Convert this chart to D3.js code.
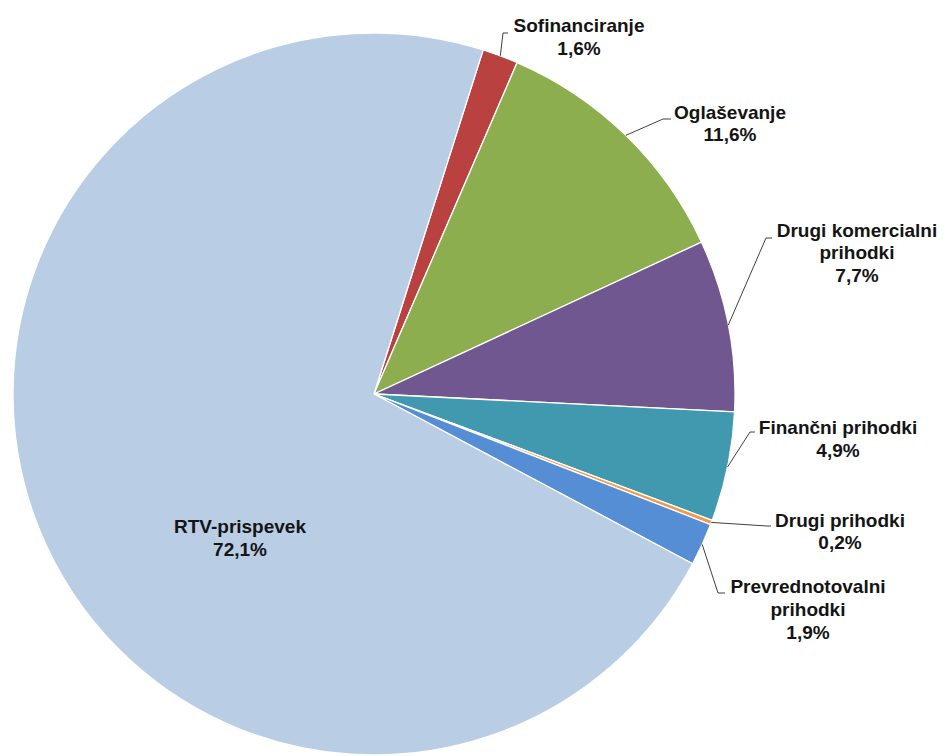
<!DOCTYPE html>
<html>
<head>
<meta charset="utf-8">
<script src="https://cdn.jsdelivr.net/npm/d3@7"></script>
<style>
  html, body { margin: 0; padding: 0; background: #ffffff; }
  svg { display: block; }
</style>
</head>
<body>
<script>
// ---- data ----
const categories = ["Sofinanciranje", "Oglaševanje", "Drugi komercialni prihodki", "Finančni prihodki", "Drugi prihodki", "Prevrednotovalni prihodki", "RTV-prispevek"];
const values = [1.6, 11.6, 7.7, 4.9, 0.2, 1.9, 72.1];
const labelLines = [["Sofinanciranje"], ["Oglaševanje"], ["Drugi komercialni", "prihodki"], ["Finančni prihodki"], ["Drugi prihodki"], ["Prevrednotovalni", "prihodki"], ["RTV-prispevek"]];
const colors = ["#B9413F", "#8CAE4E", "#70578F", "#4199AF", "#F79646", "#558ED5", "#B9CDE5"];

// ---- layout ----
const W = 944, H = 756;
const cx = 374, cy = 394, R = 361;
const startDeg = 17.6;
const lineH = 22.8;
// label layout: text centre x, first baseline y, leader elbow, tick end x (null = no leader)
const labelLayout = [
  { tx: 579, ty: 32,    ex: 503, ey: 33,  endX: 508 },
  { tx: 730, ty: 118.5, ex: 663, ey: 119, endX: 671 },
  { tx: 857, ty: 236.5, ex: 766, ey: 238, endX: 772 },
  { tx: 838, ty: 434,   ex: 750, ey: 432, endX: 755 },
  { tx: 840, ty: 526.5, ex: 767, ey: 526, endX: 771 },
  { tx: 808, ty: 593,   ex: 718, ey: 593, endX: 725 },
  { tx: 240, ty: 533,   ex: null }
];

const svg = d3.select("body").append("svg").attr("width", W).attr("height", H);
const g = svg.append("g").attr("transform", `translate(${cx},${cy})`);

const start = startDeg * Math.PI / 180;
const pie = d3.pie().sort(null).value(d => d.v).startAngle(start).endAngle(start + 2 * Math.PI);
const data = categories.map((c, i) => ({ c, v: values[i], i }));
const arcs = pie(data);
const arc = d3.arc().innerRadius(0).outerRadius(R);

g.selectAll("path.slice").data(arcs).enter().append("path")
  .attr("class", "slice")
  .attr("d", arc)
  .attr("fill", d => colors[d.data.i])
  .attr("stroke", "#ffffff")
  .attr("stroke-width", 1.3)
  .attr("stroke-linejoin", "round");

const fmt = v => d3.format(".1f")(v).replace(".", ",") + "%";

// leader lines
arcs.forEach(a => {
  const L = labelLayout[a.data.i];
  if (L.ex === null) return;
  const mid = (a.startAngle + a.endAngle) / 2;
  const px = cx + R * Math.sin(mid), py = cy - R * Math.cos(mid);
  svg.append("polyline")
    .attr("points", `${px},${py} ${L.ex},${L.ey} ${L.endX},${L.ey}`)
    .attr("fill", "none")
    .attr("stroke", "#404040")
    .attr("stroke-width", 1);
});

// labels
arcs.forEach(a => {
  const i = a.data.i;
  const L = labelLayout[i];
  const lines = labelLines[i].concat([fmt(a.data.v)]);
  const t = svg.append("text")
    .attr("text-anchor", "middle")
    .attr("font-family", "'Liberation Sans', Arial, sans-serif")
    .attr("font-weight", "bold")
    .attr("font-size", 19)
    .attr("fill", "#141414");
  lines.forEach((ln, k) => {
    t.append("tspan").attr("x", L.tx).attr("y", L.ty + k * lineH).text(ln);
  });
});
</script>
</body>
</html>
